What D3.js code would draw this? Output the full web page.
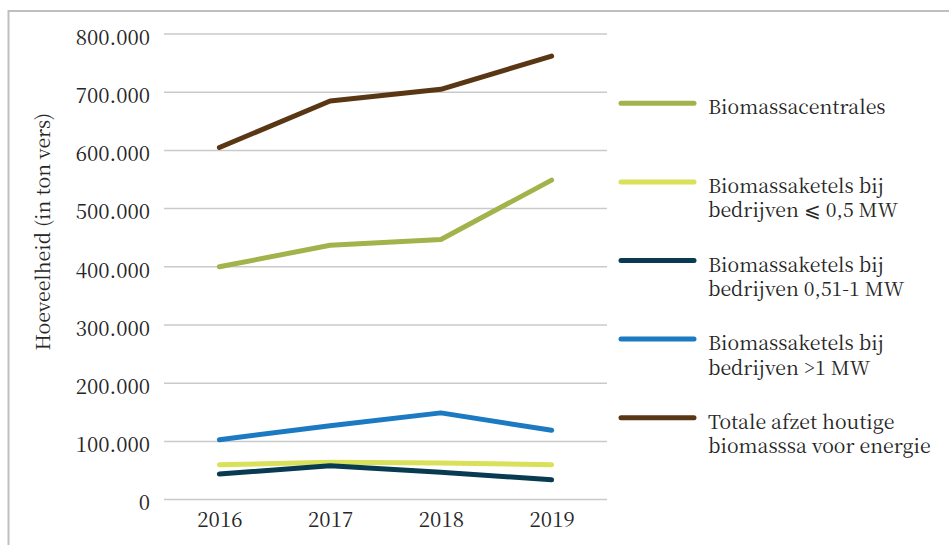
<!DOCTYPE html>
<html>
<head>
<meta charset="utf-8">
<script src="https://cdn.jsdelivr.net/npm/d3@7"></script>
<style>
  html, body { margin: 0; padding: 0; background: #fff; }
  svg { display: block; }
</style>
</head>
<body>
<svg id="chart" width="949" height="545"></svg>
<script>
// ---- data ----
const years = ["2016", "2017", "2018", "2019"];
const biomassacentrales = [400000, 437000, 447000, 549000];
const ketelsKlein = [60000, 64000, 63000, 60000];
const ketelsMiddel = [44000, 58000, 47000, 34000];
const ketelsGroot = [103000, 127000, 149000, 119000];
const totaal = [605000, 685000, 705000, 762000];
const seriesNames = [
  ["Biomassacentrales"],
  ["Biomassaketels bij", "bedrijven ⩽ 0,5 MW"],
  ["Biomassaketels bij", "bedrijven 0,51-1 MW"],
  ["Biomassaketels bij", "bedrijven >1 MW"],
  ["Totale afzet houtige", "biomasssa voor energie"]
];
const seriesColors = ["#a2b34b", "#d9e05a", "#083a52", "#1b7ac2", "#5a3714"];
const yTicks = [0, 100000, 200000, 300000, 400000, 500000, 600000, 700000, 800000];
const yTitle = "Hoeveelheid (in ton vers)";

const seriesValues = [biomassacentrales, ketelsKlein, ketelsMiddel, ketelsGroot, totaal];

// ---- layout ----
const FONT = "'Noto Serif CJK SC', 'Liberation Serif', serif";
const TXT = "#262626";
const svg = d3.select("#chart");
const W = 949, H = 545;
const plot = { left: 164, right: 607, top: 34, bottom: 499.6 };

svg.append("rect").attr("width", W).attr("height", H).attr("fill", "#fff");
// frame (top and left edges visible)
svg.append("rect")
  .attr("x", 8.5).attr("y", 11)
  .attr("width", W + 20).attr("height", H + 20)
  .attr("fill", "none").attr("stroke", "#bfbfbf").attr("stroke-width", 2);

const x = d3.scalePoint().domain(years).range([plot.left, plot.right]).padding(0.5);
const y = d3.scaleLinear().domain([0, 800000]).range([plot.bottom, plot.top]);

const nl = d3.formatLocale({ decimal: ",", thousands: ".", grouping: [3], currency: ["", ""] });
const fmt = nl.format(",");

// gridlines
svg.append("g").selectAll("line").data(yTicks).join("line")
  .attr("x1", plot.left).attr("x2", plot.right)
  .attr("y1", d => y(d)).attr("y2", d => y(d))
  .attr("stroke", "#cacaca").attr("stroke-width", 1.5);

// y axis
const yAxis = svg.append("g")
  .attr("transform", `translate(${plot.left},0)`)
  .call(d3.axisLeft(y).tickValues(yTicks).tickFormat(fmt).tickSize(0).tickPadding(14));
yAxis.select(".domain").remove();
yAxis.attr("font-family", null).attr("font-size", null);
yAxis.selectAll("text")
  .style("font-family", FONT)
  .style("font-size", "20.5px").style("fill", TXT).attr("dy", "0.5em");

// x axis
const xAxis = svg.append("g")
  .attr("transform", `translate(0,${plot.bottom})`)
  .call(d3.axisBottom(x).tickSize(0).tickPadding(13));
xAxis.select(".domain").remove();
xAxis.attr("font-family", null).attr("font-size", null);
xAxis.selectAll("text")
  .style("font-family", FONT)
  .style("font-size", "20.5px").style("fill", TXT);

// y title
svg.append("text")
  .attr("transform", `translate(43,${(plot.top + plot.bottom) / 2 - 35}) rotate(-90)`)
  .attr("text-anchor", "middle")
  .attr("dy", "0.35em")
  .style("font-family", FONT).style("font-size", "19.5px").style("fill", TXT)
  .text(yTitle);

// lines
const line = d3.line().x((d, i) => x(years[i])).y(d => y(d));
svg.append("g").selectAll("path").data(seriesValues).join("path")
  .attr("d", d => line(d))
  .attr("fill", "none")
  .attr("stroke", (d, i) => seriesColors[i])
  .attr("stroke-width", 5)
  .attr("stroke-linecap", "round")
  .attr("stroke-linejoin", "round");

// legend
const legend = svg.append("g").attr("transform", "translate(621,103.3)");
const items = legend.selectAll("g").data(seriesNames).join("g")
  .attr("transform", (d, i) => `translate(0,${i * 78.6})`);
items.append("line")
  .attr("x1", 0).attr("x2", 73).attr("y1", 0).attr("y2", 0)
  .attr("stroke", (d, i) => seriesColors[i])
  .attr("stroke-width", 5).attr("stroke-linecap", "round");
items.append("text")
  .attr("x", 87).attr("y", 11)
  .style("font-family", FONT).style("font-size", "19.5px").style("fill", TXT)
  .selectAll("tspan").data(d => d).join("tspan")
  .attr("x", 87).attr("dy", (d, i) => i === 0 ? 0 : 24.5)
  .text(d => d);
</script>
</body>
</html>
